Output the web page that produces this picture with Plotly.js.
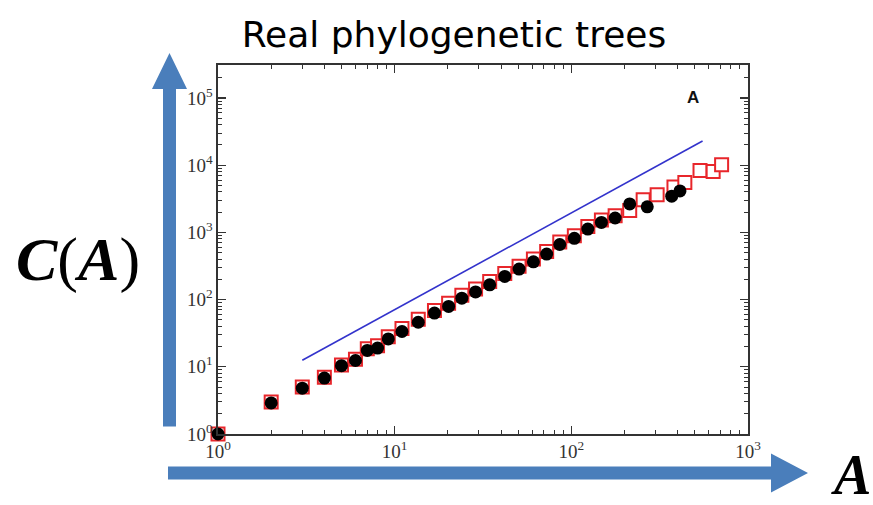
<!DOCTYPE html>
<html><head><meta charset="utf-8">
<script src="https://cdn.plot.ly/plotly-3.0.1.min.js"></script>
<style>html,body{margin:0;padding:0;background:#fff}#chart{width:873px;height:505px}</style>
</head><body><div id="chart"></div>
<script>
// Black filled circles
const circleA = [1, 2, 3, 4, 5, 6, 7, 8, 9.2, 11, 13.6, 16.8, 20.2, 24, 28.7, 34.5, 42, 50.6, 61, 72.5, 86, 104, 124, 148, 177, 214, 269, 370, 412];
const circleC = [1, 2.9, 4.8, 6.8, 10.4, 12.4, 17.5, 19, 26, 33.5, 46, 63, 79, 105, 130, 166, 221, 284, 364, 475, 660, 815, 1119, 1404, 1635, 2650, 2400, 3450, 4130];
// Red open squares
const squareA = [1, 2, 3, 4, 5, 6, 7, 8, 9.2, 11, 13.6, 16.8, 20.2, 24, 28.7, 34.5, 42, 50.6, 61, 72.5, 86, 104, 124, 148, 177, 214, 255, 306, 381, 439, 535, 635, 709];
const squareC = [1, 3, 5, 7, 10.6, 13, 18.5, 20.5, 28, 37, 51, 69, 88, 116, 144, 185, 245, 312, 400, 520, 720, 890, 1220, 1530, 1766, 2115, 3050, 3620, 4710, 5510, 8320, 8040, 10100];
// Blue power-law guide line (endpoints)
const fitA = [3, 553];
const fitC = [12.5, 22900];
// Tick labels
const xTickVals = [1, 10, 100, 1000];
const xTickText = ['10<sup>0</sup>', '10<sup>1</sup>', '10<sup>2</sup>', '10<sup>3</sup>'];
const yTickVals = [1, 10, 100, 1000, 10000, 100000];
const yTickText = ['10<sup>0</sup>', '10<sup>1</sup>', '10<sup>2</sup>', '10<sup>3</sup>', '10<sup>4</sup>', '10<sup>5</sup>'];
const titleText = 'Real phylogenetic trees';

// plot area in pixels
const L = 218, R = 748, T = 65, B = 434.5;
const px = x => (x - L) / (R - L);
const py = y => (B - y) / (B - T);
function poly(pts) {
  return 'M' + pts.map(p => px(p[0]).toFixed(5) + ',' + py(p[1]).toFixed(5)).join(' L') + ' Z';
}
const arrowBlue = '#4a7ebb';

const traces = [
  {x: fitA, y: fitC, mode: 'lines', line: {color: '#3333cc', width: 1.6}, hoverinfo: 'skip', cliponaxis: false},
  {x: squareA, y: squareC, mode: 'markers', cliponaxis: false,
   marker: {symbol: 'square', size: 13, color: 'rgba(255,255,255,1)', line: {color: '#e8262b', width: 2}}},
  {x: circleA, y: circleC, mode: 'markers', cliponaxis: false,
   marker: {symbol: 'circle', size: 13, color: '#000', line: {width: 0}}}
];

const axisCommon = {
  type: 'log', showgrid: false, zeroline: false, showline: true, linecolor: '#333', linewidth: 1.6,
  mirror: 'allticks', ticks: 'inside', ticklen: 8, tickwidth: 1.3, tickcolor: '#333',
  tickmode: 'array',
  tickfont: {family: 'Liberation Serif, Times New Roman, serif', size: 19, color: '#333'},
  minor: {ticks: 'inside', ticklen: 4, tickwidth: 1, tickcolor: '#333', dtick: 'D1', showgrid: false}
};

const layout = {
  width: 873, height: 505,
  margin: {l: L, r: 873 - R, t: T, b: 505 - B, pad: 0},
  paper_bgcolor: '#fff', plot_bgcolor: '#fff',
  showlegend: false,
  title: {text: titleText, x: 454 / 873, xanchor: 'center', y: 1 - 34 / 505, yanchor: 'middle',
          font: {family: 'DejaVu Sans, sans-serif', size: 36, color: '#000'}},
  xaxis: Object.assign({}, axisCommon, {range: [0, 3], tickvals: xTickVals, ticktext: xTickText}),
  yaxis: Object.assign({}, axisCommon, {range: [0, 5.49], tickvals: yTickVals, ticktext: yTickText}),
  shapes: [
    {type: 'path', xref: 'paper', yref: 'paper', fillcolor: arrowBlue, line: {width: 0},
     path: poly([[163, 427], [163, 89], [152, 89], [169.5, 53], [187, 89], [176, 89], [176, 427]])},
    {type: 'path', xref: 'paper', yref: 'paper', fillcolor: arrowBlue, line: {width: 0},
     path: poly([[168, 467], [771, 467], [771, 454], [808, 473.5], [771, 493], [771, 480], [168, 480]])}
  ],
  annotations: [
    {text: '<b>A</b>', xref: 'paper', yref: 'paper', x: px(692.5), y: py(97.5), xanchor: 'center', yanchor: 'middle',
     showarrow: false, font: {family: 'Liberation Sans, Arial, sans-serif', size: 17, color: '#111'}},
    {text: '<b><i>C</i></b>(<b><i>A</i></b>)', xref: 'paper', yref: 'paper', x: px(78), y: py(260),
     xanchor: 'center', yanchor: 'middle', showarrow: false,
     font: {family: 'Liberation Serif, Times New Roman, serif', size: 62, color: '#000'}},
    {text: '<b><i>A</i></b>', xref: 'paper', yref: 'paper', x: px(851), y: py(476),
     xanchor: 'center', yanchor: 'middle', showarrow: false,
     font: {family: 'Liberation Serif, Times New Roman, serif', size: 56, color: '#000'}}
  ]
};

Plotly.newPlot('chart', traces, layout, {displayModeBar: false, staticPlot: true});
</script></body></html>
